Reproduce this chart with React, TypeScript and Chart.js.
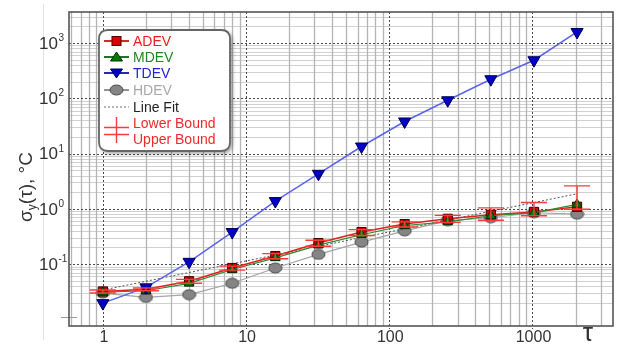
import React, { useEffect, useRef } from "react";
import { Chart, registerables } from "chart.js";

Chart.register(...registerables);

const tau = [1, 2, 4, 8, 16, 32, 64, 128, 256, 512, 1024, 2048];
const adev = [0.032, 0.035, 0.049, 0.085, 0.14, 0.24, 0.38, 0.53, 0.66, 0.78, 0.88, 1.09];
const mdev = [0.031, 0.033, 0.045, 0.08, 0.13, 0.22, 0.34, 0.5, 0.58, 0.75, 0.85, 1.2];
const tdev = [0.0197, 0.038, 0.11, 0.38, 1.38, 4.3, 13.4, 38, 92, 221, 487, 1580];
const hdev = [0.03, 0.025, 0.028, 0.045, 0.085, 0.15, 0.25, 0.4, 0.61, 0.69, 0.85, 0.8];
const lowerBound = [0.03, 0.033, 0.045, 0.078, 0.125, 0.21, 0.33, 0.47, 0.57, 0.62, 0.75, 0.98];
const upperBound = [0.034, 0.037, 0.053, 0.092, 0.155, 0.27, 0.42, 0.58, 0.76, 1.04, 1.3, 2.6];
const fitTau = [1, 2048];
const fitValue = [0.034, 1.87];
const xTickValues = [1, 10, 100, 1000];
const xTickLabels = ["1", "10", "100", "1000"];
const yTickExponents = [-1, 0, 1, 2, 3];
const yTickLabels = ["-1", "0", "1", "2", "3"];
const legendLabels = ["ADEV", "MDEV", "TDEV", "HDEV", "Line Fit", "Lower Bound", "Upper Bound"];

const FONT = "'Liberation Sans', Arial, sans-serif";

function ellipseMarker(): HTMLCanvasElement {
  const c = document.createElement("canvas");
  c.width = 15;
  c.height = 12;
  const g = c.getContext("2d")!;
  g.beginPath();
  g.ellipse(7.5, 6, 6.5, 5, 0, 0, Math.PI * 2);
  g.fillStyle = "#858585";
  g.fill();
  g.lineWidth = 1;
  g.strokeStyle = "#4a4a4a";
  g.stroke();
  return c;
}

const pts = (xs: number[], ys: number[]) => xs.map((x, i) => ({ x, y: ys[i] }));

export default function App() {
  const ref = useRef<HTMLCanvasElement | null>(null);

  useEffect(() => {
    const canvas = ref.current!;
    const ell = ellipseMarker();

    const gridPlugin = {
      id: "customGrid",
      beforeDatasetsDraw(chart: any) {
        const { ctx, chartArea: a, scales } = chart;
        const x = scales.x, y = scales.y;
        ctx.save();
        // light outer line
        ctx.strokeStyle = "#e2e2e2";
        ctx.lineWidth = 1;
        ctx.beginPath();
        ctx.moveTo(43.5, 4);
        ctx.lineTo(43.5, 340);
        ctx.stroke();
        const hMinor: number[] = [], hMajor: number[] = [];
        for (let k = -2; k <= 4; k++) {
          for (let m = 1; m <= 9; m++) {
            const v = m * Math.pow(10, k);
            if (v < y.min || v > y.max) continue;
            const p = Math.round(y.getPixelForValue(v)) + 0.5;
            if (k === -2 && m === 1) continue;
            (m === 1 ? hMajor : hMinor).push(p);
          }
        }
        const vMinor: number[] = [], vMajor: number[] = [];
        for (let k = -1; k <= 4; k++) {
          for (let m = 1; m <= 9; m++) {
            const v = m * Math.pow(10, k);
            if (v < x.min || v > x.max) continue;
            const p = Math.round(x.getPixelForValue(v)) + 0.5;
            (m === 1 ? vMajor : vMinor).push(p);
          }
        }
        ctx.setLineDash([]);
        ctx.strokeStyle = "#d0d0d0";
        ctx.lineWidth = 1;
        hMinor.forEach((p) => {
          ctx.beginPath();
          ctx.moveTo(a.left, p);
          ctx.lineTo(a.right, p);
          ctx.stroke();
        });
        ctx.strokeStyle = "#b4b4b4";
        ctx.lineWidth = 1.3;
        vMinor.forEach((p) => {
          ctx.beginPath();
          ctx.moveTo(p, a.top);
          ctx.lineTo(p, a.bottom);
          ctx.stroke();
        });
        ctx.setLineDash([2, 2]);
        ctx.strokeStyle = "#4a4a4a";
        ctx.lineWidth = 1;
        hMajor.forEach((p) => {
          ctx.beginPath();
          ctx.moveTo(a.left, p);
          ctx.lineTo(a.right, p);
          ctx.stroke();
        });
        vMajor.forEach((p) => {
          ctx.beginPath();
          ctx.moveTo(p, a.top);
          ctx.lineTo(p, a.bottom + 3);
          ctx.stroke();
        });
        // short dash at 10^-2
        ctx.setLineDash([]);
        ctx.strokeStyle = "#9a9a9a";
        const p2 = Math.round(y.getPixelForValue(0.01)) - 1.5;
        ctx.beginPath();
        ctx.moveTo(61, p2);
        ctx.lineTo(77, p2);
        ctx.stroke();
        ctx.restore();
      },
    };

    const errPlugin = {
      id: "errorBars",
      afterDatasetsDraw(chart: any) {
        const { ctx, scales } = chart;
        const x = scales.x, y = scales.y;
        ctx.save();
        ctx.strokeStyle = "#ff3a3a";
        ctx.lineWidth = 1.4;
        tau.forEach((t, i) => {
          const px = x.getPixelForValue(t);
          const lo = y.getPixelForValue(lowerBound[i]);
          const hi = y.getPixelForValue(upperBound[i]);
          ctx.beginPath();
          ctx.moveTo(px, lo);
          ctx.lineTo(px, hi);
          ctx.moveTo(px - 13, lo);
          ctx.lineTo(px + 13, lo);
          ctx.moveTo(px - 13, hi);
          ctx.lineTo(px + 13, hi);
          ctx.stroke();
        });
        ctx.restore();
      },
    };

    const decoPlugin = {
      id: "deco",
      afterDraw(chart: any) {
        const { ctx, chartArea: a, scales } = chart;
        const x = scales.x, y = scales.y;
        ctx.save();
        // frame
        ctx.strokeStyle = "#555";
        ctx.lineWidth = 1.6;
        ctx.strokeRect(a.left, a.top, a.right - a.left, a.bottom - a.top);

        ctx.fillStyle = "#333";
        // y ticks
        yTickExponents.forEach((e, i) => {
          const py = y.getPixelForValue(Math.pow(10, e));
          ctx.font = `17px ${FONT}`;
          ctx.textAlign = "right";
          ctx.textBaseline = "middle";
          ctx.fillText("10", 58, py + 1);
          ctx.font = `10px ${FONT}`;
          ctx.textAlign = "left";
          ctx.textBaseline = "alphabetic";
          ctx.fillText(yTickLabels[i], 58.5, py - 2);
        });
        // x ticks
        ctx.font = `16px ${FONT}`;
        ctx.textAlign = "center";
        ctx.textBaseline = "middle";
        xTickValues.forEach((v, i) => {
          ctx.fillText(xTickLabels[i], x.getPixelForValue(v) + 1, 338);
        });
        ctx.font = `26px ${FONT}`;
        ctx.fillText("τ", 588, 334);

        // y title
        ctx.save();
        ctx.translate(27, 187);
        ctx.rotate(-Math.PI / 2);
        const big = `19px ${FONT}`, small = `12px ${FONT}`;
        ctx.font = big;
        const w1 = ctx.measureText("σ").width;
        const w3 = ctx.measureText("(τ), °C").width;
        ctx.font = small;
        const w2 = ctx.measureText("y").width;
        const total = w1 + w2 + w3;
        let cx = -total / 2;
        ctx.textAlign = "left";
        ctx.textBaseline = "middle";
        ctx.font = big;
        ctx.fillText("σ", cx, 0);
        cx += w1;
        ctx.font = small;
        ctx.fillText("y", cx, 6);
        cx += w2;
        ctx.font = big;
        ctx.fillText("(τ), °C", cx, 0);
        ctx.restore();

        // legend box
        const bx = 99, by = 30, bw = 131, bh = 121, r = 9;
        const rr = (g: CanvasRenderingContext2D) => {
          g.beginPath();
          g.moveTo(bx + r, by);
          g.lineTo(bx + bw - r, by);
          g.quadraticCurveTo(bx + bw, by, bx + bw, by + r);
          g.lineTo(bx + bw, by + bh - r);
          g.quadraticCurveTo(bx + bw, by + bh, bx + bw - r, by + bh);
          g.lineTo(bx + r, by + bh);
          g.quadraticCurveTo(bx, by + bh, bx, by + bh - r);
          g.lineTo(bx, by + r);
          g.quadraticCurveTo(bx, by, bx + r, by);
          g.closePath();
        };
        ctx.save();
        ctx.shadowColor = "rgba(0,0,0,0.45)";
        ctx.shadowBlur = 4;
        ctx.shadowOffsetX = 2;
        ctx.shadowOffsetY = 2;
        rr(ctx);
        ctx.fillStyle = "#fff";
        ctx.fill();
        ctx.restore();
        rr(ctx);
        ctx.strokeStyle = "#666";
        ctx.lineWidth = 1.8;
        ctx.stroke();

        const rowsY = [41, 57, 73, 90, 107, 123, 139];
        const colors = ["#ee1c1c", "#1d8a1d", "#2020e0", "#a8a8a8", "#222", "#ee2a2a", "#ee2a2a"];
        const lineCols = ["#d01010", "#106010", "#1010b0", "#888", "#888"];
        const ix0 = 104, ix1 = 129, icx = 116.5, tx = 133;
        for (let i = 0; i < 5; i++) {
          const ly = rowsY[i];
          ctx.beginPath();
          ctx.setLineDash(i === 4 ? [2, 2] : []);
          ctx.strokeStyle = lineCols[i];
          ctx.lineWidth = i === 4 ? 1.2 : 1.8;
          ctx.moveTo(ix0, ly);
          ctx.lineTo(ix1, ly);
          ctx.stroke();
          ctx.setLineDash([]);
        }
        // markers
        ctx.lineWidth = 1;
        ctx.fillStyle = "#dd0000";
        ctx.strokeStyle = "#500000";
        ctx.fillRect(icx - 4.5, rowsY[0] - 4.5, 9, 9);
        ctx.strokeRect(icx - 4.5, rowsY[0] - 4.5, 9, 9);
        ctx.beginPath();
        ctx.moveTo(icx, rowsY[1] - 5);
        ctx.lineTo(icx + 6, rowsY[1] + 4);
        ctx.lineTo(icx - 6, rowsY[1] + 4);
        ctx.closePath();
        ctx.fillStyle = "#007a00";
        ctx.strokeStyle = "#003000";
        ctx.fill();
        ctx.stroke();
        ctx.beginPath();
        ctx.moveTo(icx, rowsY[2] + 5);
        ctx.lineTo(icx + 6, rowsY[2] - 4);
        ctx.lineTo(icx - 6, rowsY[2] - 4);
        ctx.closePath();
        ctx.fillStyle = "#0000c8";
        ctx.strokeStyle = "#000050";
        ctx.fill();
        ctx.stroke();
        ctx.drawImage(ell, icx - 7.5, rowsY[3] - 6);
        // bounds icon
        ctx.strokeStyle = "#ff3a3a";
        ctx.lineWidth = 1.4;
        ctx.beginPath();
        ctx.moveTo(icx, 117);
        ctx.lineTo(icx, 143);
        ctx.moveTo(ix0, 127.5);
        ctx.lineTo(ix1, 127.5);
        ctx.moveTo(ix0, 134.5);
        ctx.lineTo(ix1, 134.5);
        ctx.stroke();

        ctx.font = `14px ${FONT}`;
        ctx.textAlign = "left";
        ctx.textBaseline = "middle";
        legendLabels.forEach((lab, i) => {
          ctx.fillStyle = colors[i];
          ctx.fillText(lab, tx, rowsY[i] + 1);
        });
        ctx.restore();
      },
    };

    const chart = new Chart(canvas, {
      type: "line",
      data: {
        datasets: [
          {
            label: "TDEV",
            data: pts(tau, tdev),
            borderColor: "#5a64ec",
            borderWidth: 1.5,
            pointStyle: "triangle",
            pointRotation: 180,
            pointRadius: 7,
            pointBackgroundColor: "#0000c8",
            pointBorderColor: "#000050",
            pointBorderWidth: 1,
            order: 1,
          },
          {
            label: "MDEV",
            data: pts(tau, mdev),
            borderColor: "#2a8a2a",
            borderWidth: 1.2,
            pointStyle: "triangle",
            pointRadius: 5.5,
            pointBackgroundColor: "#007a00",
            pointBorderColor: "#003000",
            pointBorderWidth: 1,
            order: 2,
          },
          {
            label: "ADEV",
            data: pts(tau, adev),
            borderColor: "#e02020",
            borderWidth: 1.5,
            pointStyle: "rect",
            pointRadius: 6.5,
            pointBackgroundColor: "#dd0000",
            pointBorderColor: "#3a0000",
            pointBorderWidth: 1,
            order: 3,
          },
          {
            label: "Line Fit",
            data: pts(fitTau, fitValue),
            borderColor: "#555",
            borderWidth: 1,
            borderDash: [2, 2],
            pointRadius: 0,
            order: 4,
          },
          {
            label: "HDEV",
            data: pts(tau, hdev),
            borderColor: "#a5a5a5",
            borderWidth: 1.2,
            pointStyle: ell as any,
            pointRadius: 6,
            order: 5,
          },
        ],
      },
      options: {
        animation: false,
        responsive: false,
        maintainAspectRatio: false,
        layout: { padding: { left: 0, top: 12, right: 6, bottom: 0 } },
        elements: { line: { tension: 0 } },
        plugins: { legend: { display: false }, tooltip: { enabled: false } },
        scales: {
          x: {
            type: "logarithmic",
            min: 0.58,
            max: 3650,
            grid: { display: false },
            border: { display: false },
            ticks: { display: false },
            afterFit(s: any) {
              s.height = 18;
            },
          },
          y: {
            type: "logarithmic",
            min: 0.0076,
            max: 3630,
            grid: { display: false },
            border: { display: false },
            ticks: { display: false },
            afterFit(s: any) {
              s.width = 69;
            },
          },
        },
      },
      plugins: [gridPlugin, errPlugin, decoPlugin],
    });
    return () => chart.destroy();
  }, []);

  return (
    <div style={{ position: "fixed", left: 0, top: 0, width: 621, height: 344, background: "#fff" }}>
      <canvas ref={ref} width={621} height={344} />
    </div>
  );
}
